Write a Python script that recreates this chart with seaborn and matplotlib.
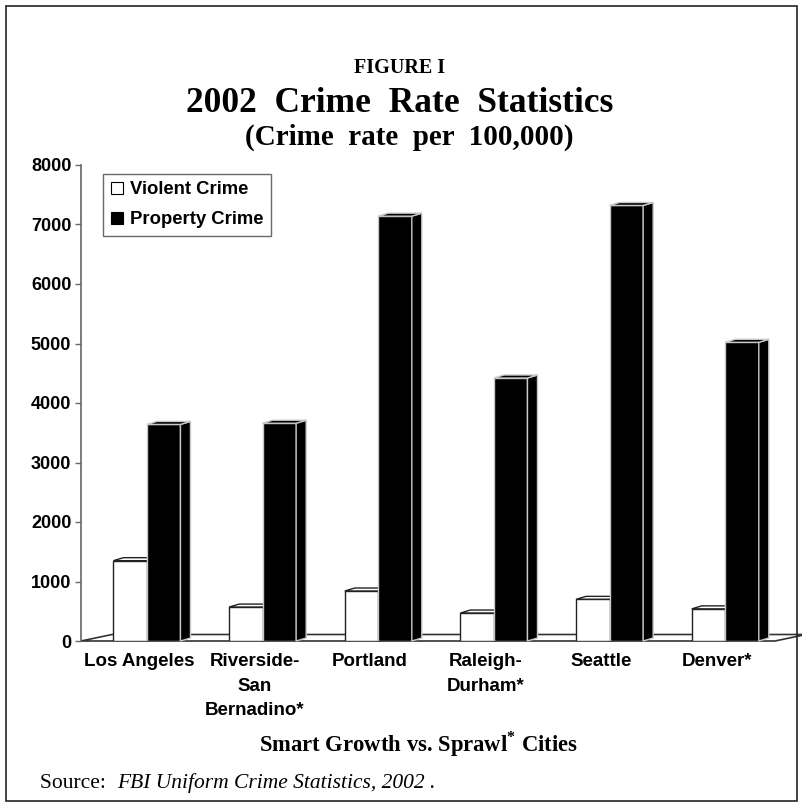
import numpy as np
import pandas as pd
import matplotlib
matplotlib.use("Agg")
import matplotlib.pyplot as plt
import seaborn as sns
from matplotlib.patches import Polygon, Rectangle
from matplotlib.lines import Line2D

# ---------------- data ----------------
cities = ["Los Angeles", "Riverside-\nSan\nBernadino*", "Portland",
          "Raleigh-\nDurham*", "Seattle", "Denver*"]
violent = [1350, 570, 840, 470, 700, 540]
property_crime = [3640, 3660, 7140, 4420, 7320, 5020]
series = ["Violent Crime", "Property Crime"]
yticks = [0, 1000, 2000, 3000, 4000, 5000, 6000, 7000, 8000]

sns.set_theme(style="white")
plt.rcParams["font.family"] = ["Liberation Sans", "DejaVu Sans"]
plt.rcParams["mathtext.fontset"] = "custom"
plt.rcParams["mathtext.rm"] = "Liberation Serif:bold"
for k in ["text.color", "axes.labelcolor", "xtick.color", "ytick.color"]:
    plt.rcParams[k] = "black"

W, H = 803, 807
fig = plt.figure(figsize=(W / 100, H / 100), dpi=100)
fig.patch.set_facecolor("white")

ax_l, ax_r, ax_t, ax_b = 81, 775, 165, 641
ax = fig.add_axes([ax_l / W, 1 - ax_b / H, (ax_r - ax_l) / W, (ax_b - ax_t) / H])

df = pd.DataFrame({
    "City": cities * 2,
    "Series": [series[0]] * len(cities) + [series[1]] * len(cities),
    "Rate": violent + property_crime,
})
sns.barplot(data=df, x="City", y="Rate", hue="Series", hue_order=series,
            palette={series[0]: "white", series[1]: "black"},
            width=0.58, saturation=1, legend=False, ax=ax, errorbar=None)

xlim = (-0.57, 5.43)
ax.set_xlim(*xlim)
ax.set_ylim(0, 8000)

px_x = (ax_r - ax_l) / (xlim[1] - xlim[0])
px_y = (ax_b - ax_t) / 8000.0
dx, dy = 10 / px_x, 3 / px_y
fdx, fdy = 31 / px_x, 6.5 / px_y

# floor
floor = Polygon([(xlim[0], 0), (xlim[1], 0), (xlim[1] + fdx, fdy), (xlim[0] + fdx, fdy)],
                closed=True, facecolor="white", edgecolor="#333333", lw=1.2,
                zorder=1, clip_on=False)
ax.add_patch(floor)

styles = [
    dict(face="white", edge="#222222", zf=3, zs=2.5),
    dict(face="black", edge="#c8c8c8", zf=4, zs=4.5),
]
for cont, st in zip(ax.containers, styles):
    for bar in cont:
        x, w, h = bar.get_x(), bar.get_width(), bar.get_height()
        bar.set_facecolor(st["face"])
        bar.set_edgecolor(st["edge"])
        bar.set_linewidth(1.0)
        bar.set_zorder(st["zf"])
        side = Polygon([(x + w, 0), (x + w + dx, dy), (x + w + dx, h + dy), (x + w, h)],
                       closed=True, facecolor=st["face"], edgecolor=st["edge"], lw=1.0,
                       zorder=st["zs"], clip_on=False)
        top = Polygon([(x, h), (x + dx, h + dy), (x + w + dx, h + dy), (x + w, h)],
                      closed=True, facecolor=st["face"], edgecolor=st["edge"], lw=1.0,
                      zorder=st["zs"], clip_on=False)
        ax.add_patch(side)
        ax.add_patch(top)

# axes styling
for s in ["top", "right", "bottom"]:
    ax.spines[s].set_visible(False)
ax.spines["left"].set_color("#666666")
ax.spines["left"].set_linewidth(1.2)
ax.set_yticks(yticks)
ax.set_yticklabels([str(v) for v in yticks], fontweight="bold", fontsize=13)
ax.tick_params(axis="y", direction="out", length=4, width=1, color="#666666",
               labelcolor="black", pad=3, left=True)
ax.set_xticks(np.arange(len(cities)) - 0.07)
ax.set_xticklabels(cities, fontweight="bold", fontsize=13.5, linespacing=1.55)
ax.tick_params(axis="x", length=0, pad=9, labelcolor="black")
ax.set_xlabel("")
ax.set_ylabel("")
ax.grid(False)
ax.set_facecolor("none")

# legend
handles = [
    Line2D([], [], marker="s", linestyle="none", markersize=8.5,
           markerfacecolor="white", markeredgecolor="black", markeredgewidth=0.8),
    Line2D([], [], marker="s", linestyle="none", markersize=8.5,
           markerfacecolor="black", markeredgecolor="black", markeredgewidth=0.8),
]
leg = ax.legend(handles, series, loc="upper left",
                bbox_to_anchor=((103 - ax_l) / (ax_r - ax_l), 1 - (174 - ax_t) / (ax_b - ax_t)),
                borderaxespad=0, frameon=True, fancybox=False, edgecolor="#444444",
                handlelength=0.7, handletextpad=0.35, borderpad=0.4, labelspacing=0.7,
                prop={"weight": "bold", "size": 13.3})
leg.get_frame().set_linewidth(1.0)

# titles
serif = ["Liberation Serif", "DejaVu Serif"]
fig.text(400 / W, 1 - 68 / H, "FIGURE I", family=serif, weight="bold", fontsize=14.5,
         ha="center", va="center")
fig.text(400 / W, 1 - 104 / H, "2002  Crime  Rate  Statistics", family=serif, weight="bold",
         fontsize=25.5, ha="center", va="center")
fig.text(409 / W, 1 - 137 / H, "(Crime  rate  per  100,000)", family=serif, weight="bold",
         fontsize=21, ha="center", va="center")
fig.text(418 / W, 1 - 744 / H, r"Smart Growth vs. Sprawl$^{*}$ Cities", family=serif,
         weight="bold", fontsize=16.3, ha="center", va="center")

t1 = fig.text(40 / W, 1 - 783 / H, "Source:  ", family=serif, fontsize=15.5,
              ha="left", va="center")
fig.canvas.draw()
bb = t1.get_window_extent(renderer=fig.canvas.get_renderer())
fig.text(bb.x1 / W, 1 - 783 / H, "FBI Uniform Crime Statistics, 2002 .", family=serif,
         style="italic", fontsize=15.5, ha="left", va="center")

# border
fig.patches.append(Rectangle((6 / W, 1 - 801 / H), (797 - 6) / W, (801 - 6) / H,
                             transform=fig.transFigure, fill=False,
                             edgecolor="#222222", lw=1.2))

fig.savefig("out.png", dpi=100, facecolor="white")
